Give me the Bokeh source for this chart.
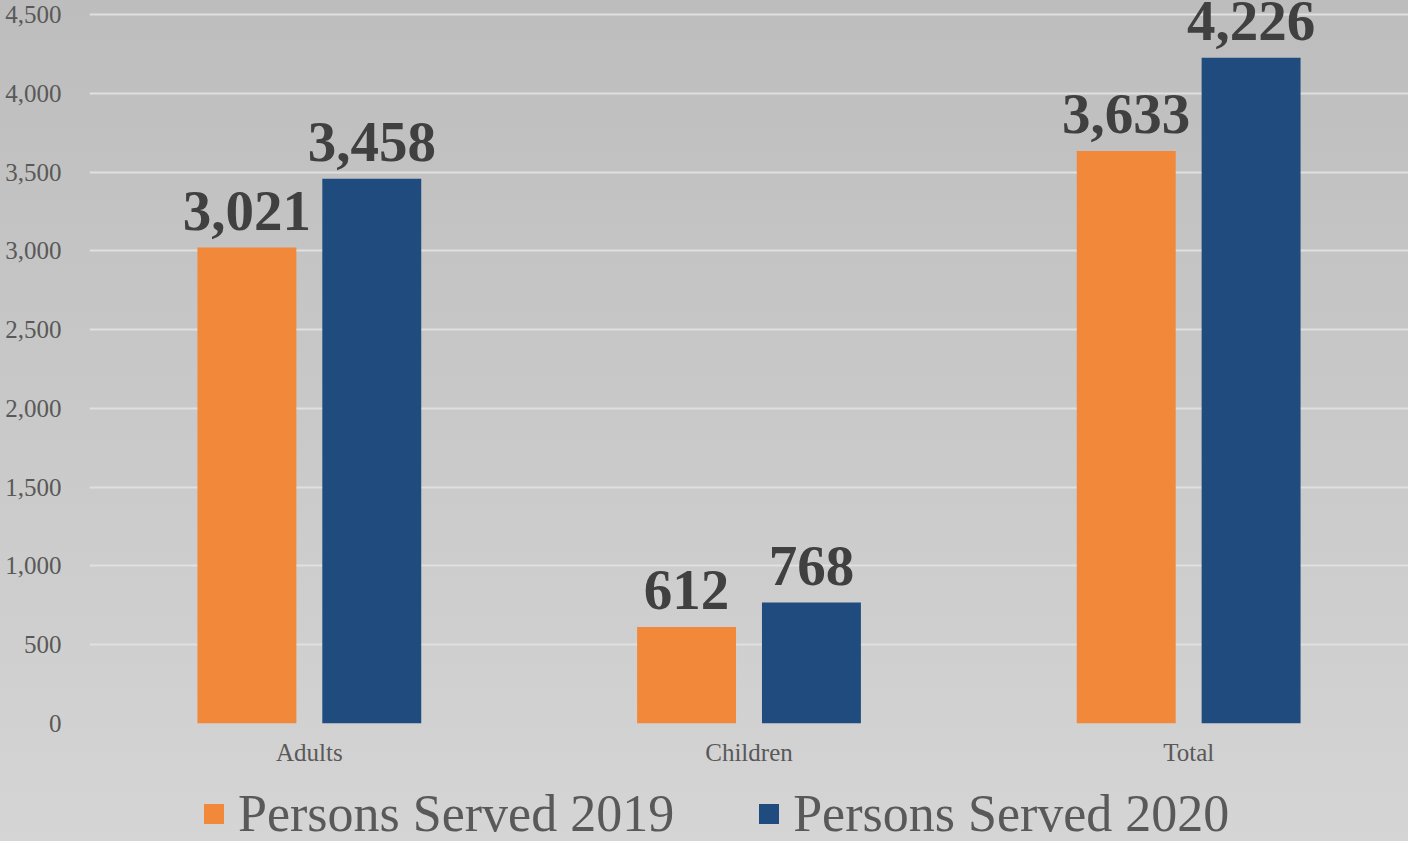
from bokeh.plotting import figure
from bokeh.layouts import column
from bokeh.models import ColumnDataSource, Legend, LegendItem, FactorRange, Range1d, NumeralTickFormatter
from bokeh.transform import dodge
from bokeh.core.properties import value
from bokeh.embed import file_html
from bokeh.resources import INLINE

categories = ["Adults", "Children", "Total"]
served_2019 = [3021, 612, 3633]
served_2020 = [3458, 768, 4226]
series_names = ["Persons Served 2019", "Persons Served 2020"]
y_ticks = [0, 500, 1000, 1500, 2000, 2500, 3000, 3500, 4000, 4500]

FONT = "Liberation Serif"
ORANGE = "#F1883A"
BLUE = "#1F4B7E"

src = ColumnDataSource(dict(
    cat=categories,
    v19=served_2019,
    v20=served_2020,
    t19=[f"{v:,}" for v in served_2019],
    t20=[f"{v:,}" for v in served_2020],
))

p = figure(
    x_range=FactorRange(*categories, range_padding=0),
    y_range=Range1d(0, 4589),
    width=1408, height=780,
    output_backend="svg", toolbar_location=None,
    min_border_left=89, min_border_right=0, min_border_top=0, min_border_bottom=57,
)
p.background_fill_alpha = 0
p.border_fill_alpha = 0
p.outline_line_color = None
p.styles = {"background": "linear-gradient(to bottom, #bdbdbd, #d3d3d3)"}

off = 0.142
bw = 0.225
r19 = p.vbar(x=dodge("cat", -off, range=p.x_range), top="v19", width=bw, source=src,
             fill_color=ORANGE, line_color=None)
r20 = p.vbar(x=dodge("cat", off, range=p.x_range), top="v20", width=bw, source=src,
             fill_color=BLUE, line_color=None)

for col, tcol, o in (("v19", "t19", -off), ("v20", "t20", off)):
    p.text(x=dodge("cat", o, range=p.x_range), y=col, text=tcol, source=src,
           text_font=value(FONT), text_font_style="bold", text_font_size="57px",
           text_color="#404040", text_align="center", text_baseline="alphabetic",
           y_offset=-37)

p.xgrid.grid_line_color = None
p.ygrid.grid_line_color = "#e0e0e0"
p.ygrid.grid_line_width = 2
p.yaxis.ticker = y_ticks
p.yaxis.formatter = NumeralTickFormatter(format="0,0")

for ax in (p.xaxis[0], p.yaxis[0]):
    ax.axis_line_color = None
    ax.major_tick_line_color = None
    ax.minor_tick_line_color = None
    ax.major_label_text_font = FONT
    ax.major_label_text_color = "#595959"
p.yaxis.major_label_text_font_size = "25px"
p.yaxis.major_label_standoff = 22
p.xaxis.major_label_text_font_size = "25px"
p.xaxis.major_label_standoff = 9

# legend strip below the plot (its frame is aligned with the main plot's frame)
lg = figure(width=1408, height=61, x_range=Range1d(0, 1), y_range=Range1d(0, 1),
            output_backend="svg", toolbar_location=None,
            min_border_left=0, min_border_right=0, min_border_top=0, min_border_bottom=0)
lg.axis.visible = False
lg.grid.visible = False
lg.background_fill_alpha = 0
lg.border_fill_alpha = 0
lg.outline_line_color = None
lg.styles = {"background": "linear-gradient(to bottom, #d3d3d3, #d5d5d5)"}
# key renderers share the data but fall outside this strip's ranges
k19 = lg.vbar(x="v19", top="v19", width=0.1, source=src, fill_color=ORANGE, line_color=None)
k20 = lg.vbar(x="v20", top="v20", width=0.1, source=src, fill_color=BLUE, line_color=None)

legend = Legend(
    items=[LegendItem(label=series_names[0], renderers=[k19]),
           LegendItem(label=series_names[1], renderers=[k20])],
    orientation="horizontal", location=(112, -2),
    label_text_font=FONT, label_text_font_size="52px", label_text_color="#595959",
    glyph_width=25, glyph_height=25, label_standoff=12, spacing=82,
    padding=0, margin=0, background_fill_alpha=0, border_line_color=None,
)
lg.add_layout(legend)

layout = column(p, lg, spacing=0)
open("out.html", "w").write(file_html(layout, INLINE))
